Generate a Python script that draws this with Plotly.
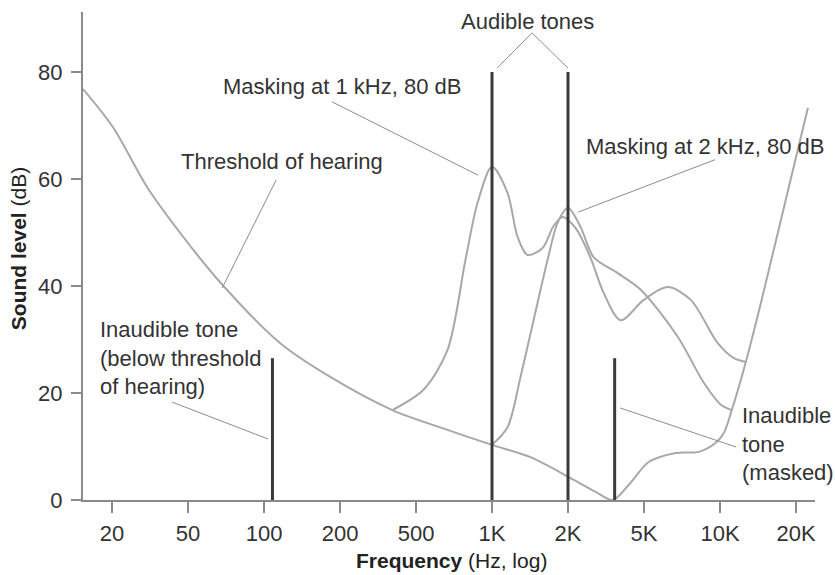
import numpy as np
import plotly.graph_objects as go

# ---- axis ticks (equally spaced 1-2-5 log steps) ----
TICK_HZ = [20, 50, 100, 200, 500, 1000, 2000, 5000, 10000, 20000]
TICK_TEXT = ["20", "50", "100", "200", "500", "1K", "2K", "5K", "10K", "20K"]
Y_TICKS = [0, 20, 40, 60, 80]

# ---- threshold of hearing ----
thresh_hz = [14.1, 20.2, 30.5, 45.5, 67, 116, 183, 376, 666, 1000, 1421,
             2063, 2792, 3428, 4155, 5218, 6680, 8242, 9626, 10353, 11134, 12657,
             14520, 22300]
thresh_db = [76.8, 69.7, 58.5, 49.9, 40.7, 29.3, 23.0, 16.8, 13.1, 10.3, 8.0,
             4.1, 1.5, 0.0, 2.8, 7.1, 8.8, 9.0, 10.7, 12.5, 16.8, 25.8,
             36.8, 73.3]

# ---- masking at 1 kHz, 80 dB ----
mask1k_hz = [376, 535, 666, 785, 876, 1000, 1152, 1262, 1383, 1586, 1753, 1904,
             2193, 2628, 3074, 3774, 4982, 6206, 7659, 9801, 11345, 12657]
mask1k_db = [16.8, 20.6, 28.0, 44.9, 55.5, 62.3, 57.4, 49.2, 45.8, 47.1, 51.2, 52.9,
             50.8, 45.2, 38.7, 33.6, 37.4, 39.8, 37.4, 29.3, 26.5, 25.8]

# ---- masking at 2 kHz, 80 dB ----
mask2k_hz = [1000, 1152, 1297, 1461, 1660, 1819, 2000, 2329, 2723, 3638, 4807, 6802,
             8627, 10077, 11134]
mask2k_db = [10.3, 13.6, 23.0, 33.6, 44.9, 51.8, 54.6, 51.0, 45.4, 42.4, 39.3, 30.5,
             21.9, 17.8, 16.8]

# ---- pure tones ----
tone_hz = [108, 1000, 2000, 3510]
tone_db = [26.5, 80, 80, 26.5]


def hz_to_pos(f):
    lf = np.log10(np.atleast_1d(np.asarray(f, dtype=float)))
    lt = np.log10(TICK_HZ)
    pos = np.interp(lf, lt, np.arange(len(TICK_HZ)))
    lo = lf < lt[0]
    hi = lf > lt[-1]
    pos[lo] = (lf[lo] - lt[0]) / (lt[1] - lt[0])
    pos[hi] = len(TICK_HZ) - 1 + (lf[hi] - lt[-1]) / (lt[-1] - lt[-2])
    return pos


FONT = "Liberation Sans, Arial, Helvetica, sans-serif"
FS = 22
TXT = "#333333"
CURVE = "#a8a8a8"
TONE = "#3a3a3a"
AX = "#8a8a8a"
PTR = "#8c8c8c"

fig = go.Figure()

for xs, ys in [(thresh_hz, thresh_db), (mask1k_hz, mask1k_db), (mask2k_hz, mask2k_db)]:
    fig.add_trace(go.Scatter(x=hz_to_pos(xs), y=ys, mode="lines",
                             line=dict(color=CURVE, width=2, shape="spline", smoothing=0.85),
                             hoverinfo="skip", showlegend=False))

for f, lv in zip(tone_hz, tone_db):
    p = hz_to_pos(f)[0]
    fig.add_trace(go.Scatter(x=[p, p], y=[0, lv], mode="lines",
                             line=dict(color=TONE, width=3),
                             hoverinfo="skip", showlegend=False))

# pointer lines (axis units: x = tick index, y = dB)
pointers = [
    (5.527, 87.3, 5.066, 80.7),
    (5.527, 87.3, 6.000, 80.7),
    (2.896, 74.4, 4.817, 60.7),
    (2.159, 59.8, 1.449, 39.6),
    (7.935, 63.6, 6.133, 53.8),
    (0.791, 18.3, 2.054, 11.4),
    (6.686, 17.2, 8.212, 9.9),
]
for x0, y0, x1, y1 in pointers:
    fig.add_shape(type="line", xref="x", yref="y", x0=x0, y0=y0, x1=x1, y1=y1,
                  line=dict(color=PTR, width=1))

labels = [
    ("Audible tones", 5.468, 89.5, "center"),
    ("Masking at 1 kHz, 80 dB", 1.430, 77.2, "left"),
    ("Threshold of hearing", 0.876, 63.2, "left"),
    ("Masking at 2 kHz, 80 dB", 6.212, 66.0, "left"),
    ("Inaudible tone<br>(below threshold<br>of hearing)", -0.19, 26.5, "left"),
    ("Inaudible<br>tone<br>(masked)", 8.267, 10.5, "left"),
]
for t, x, y, anc in labels:
    fig.add_annotation(text=t, x=x, y=y, xref="x", yref="y", xanchor=anc, yanchor="middle",
                       align="left", showarrow=False, font=dict(family=FONT, size=FS, color=TXT))

# axis titles
fig.add_annotation(text="<b>Frequency</b> (Hz, log)", x=0.504, y=-0.124, xref="paper", yref="paper",
                   xanchor="center", yanchor="middle", showarrow=False,
                   font=dict(family=FONT, size=21, color="#222222"))
fig.add_annotation(text="<b>Sound level</b> (dB)", x=-0.0888, y=0.516, xref="paper", yref="paper",
                   xanchor="center", yanchor="middle", textangle=-90, showarrow=False,
                   font=dict(family=FONT, size=21, color="#222222"))

fig.update_layout(
    width=835, height=575,
    margin=dict(l=83, r=20, t=12, b=75),
    paper_bgcolor="white", plot_bgcolor="white",
    font=dict(family=FONT, size=FS, color=TXT),
    xaxis=dict(range=[-0.382, 9.25], tickvals=list(range(len(TICK_HZ))), ticktext=TICK_TEXT,
               showgrid=False, zeroline=False, showline=True, linecolor=AX, linewidth=2,
               ticks="outside", ticklen=11, tickwidth=2, tickcolor=AX,
               tickfont=dict(family=FONT, size=FS, color=TXT), ticklabelstandoff=2),
    yaxis=dict(range=[0, 91.2], tickvals=Y_TICKS, showgrid=False, zeroline=False,
               showline=True, linecolor=AX, linewidth=2,
               ticks="outside", ticklen=10, tickwidth=2, tickcolor=AX,
               tickfont=dict(family=FONT, size=FS, color=TXT), ticklabelstandoff=4),
)

fig.write_html("out.html")
